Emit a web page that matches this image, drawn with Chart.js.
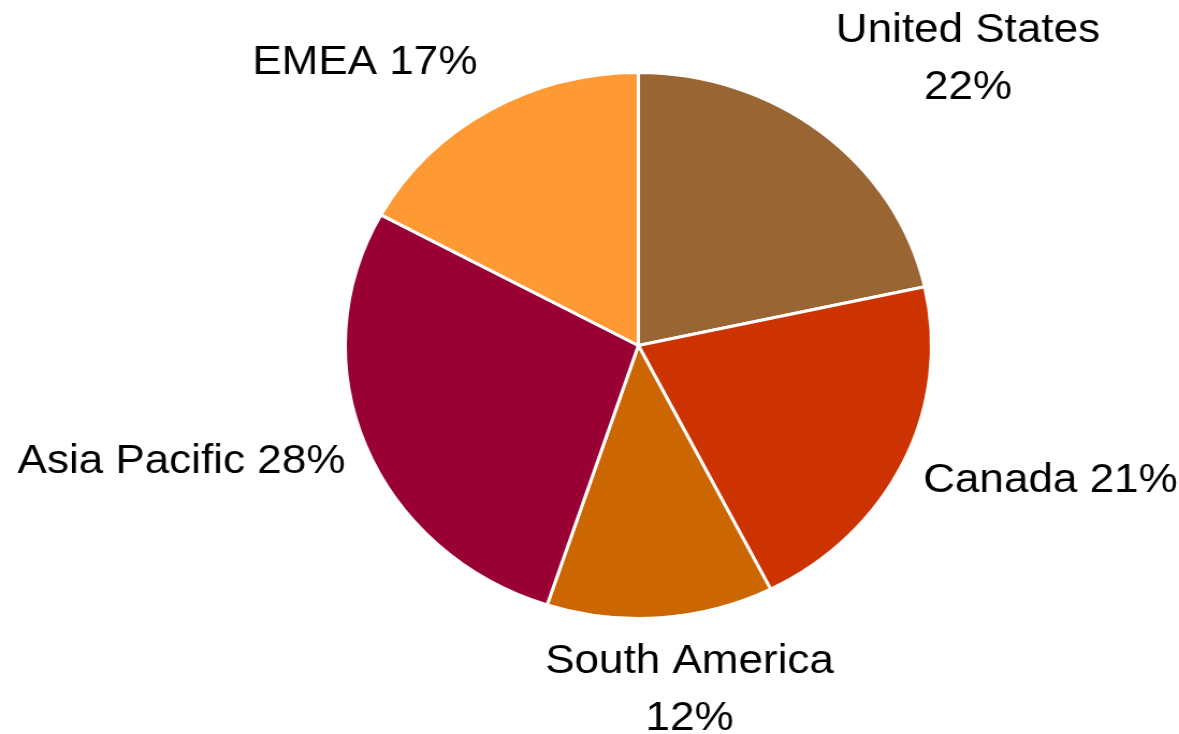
<!DOCTYPE html>
<html><head><meta charset="utf-8">
<script src="https://cdn.jsdelivr.net/npm/chart.js@4/dist/chart.umd.min.js"></script>
<style>
html,body{margin:0;padding:0;background:#fff;overflow:hidden;}
#wrap{position:absolute;left:0;top:0;width:1098px;height:734px;transform:scaleX(1.0738);transform-origin:0 0;}
</style></head><body>
<div id="wrap"><canvas id="c"></canvas></div>
<script>
const categories = ['United States', 'Canada', 'South America', 'Asia Pacific', 'EMEA'];
const shares = [21.55, 21.0, 12.49, 27.9, 17.06];
const sliceColors = ['#996633', '#CC3300', '#CC6600', '#990033', '#FF9933'];

const outsideLabels = {
  id: 'outsideLabels',
  afterDatasetsDraw(chart, args, opts) {
    const ctx = chart.ctx;
    const meta = chart.getDatasetMeta(0);
    const data = chart.data.datasets[0].data;
    const total = data.reduce((a, b) => a + b, 0);
    ctx.save();
    ctx.font = opts.font;
    ctx.fillStyle = opts.color;
    ctx.textAlign = 'center';
    ctx.textBaseline = 'alphabetic';
    meta.data.forEach((arc, i) => {
      const p = arc.getProps(['x', 'y', 'startAngle', 'endAngle', 'outerRadius'], true);
      const mid = (p.startAngle + p.endAngle) / 2;
      const dx = Math.cos(mid), dy = Math.sin(mid);
      const r = p.outerRadius - opts.borderInset;
      const px = p.x + dx * r, py = p.y + dy * r;
      const name = chart.data.labels[i];
      const pct = Math.round(data[i] / total * 100) + '%';
      const lines = ctx.measureText(name).width > opts.wrapWidth ? [name, pct] : [name + ' ' + pct];
      const w = Math.max(...lines.map(l => ctx.measureText(l).width));
      const h = (lines.length - 1) * opts.lineHeight + opts.capHeight;
      const cx = px + Math.sign(dx) * Math.min(1, Math.abs(dx) * 2.5) * w / 2 + dx * opts.gapX;
      const cy = py + Math.sign(dy) * Math.min(1, Math.abs(dy) * 1.3) * h / 2 + dy * opts.gapY + opts.shiftY;
      let y = cy - h / 2 + opts.capHeight;
      lines.forEach(l => { ctx.fillText(l, cx, y); y += opts.lineHeight; });
    });
    ctx.restore();
  }
};

new Chart(document.getElementById('c'), {
  type: 'pie',
  data: {
    labels: categories,
    datasets: [{
      data: shares,
      backgroundColor: sliceColors,
      borderColor: '#ffffff',
      borderWidth: 3
    }]
  },
  options: {
    responsive: true,
    maintainAspectRatio: false,
    animation: false,
    layout: { padding: { left: 91, right: 0, top: 71, bottom: 114 } },
    plugins: {
      legend: { display: false },
      tooltip: { enabled: false },
      outsideLabels: {
        font: '41px "Liberation Sans", Arial, sans-serif',
        color: '#000000',
        borderInset: 1.5,
        wrapWidth: 230,
        lineHeight: 57,
        capHeight: 30,
        gapX: 22,
        gapY: 35,
        shiftY: -8
      }
    }
  },
  plugins: [outsideLabels]
});
</script>
</body></html>
